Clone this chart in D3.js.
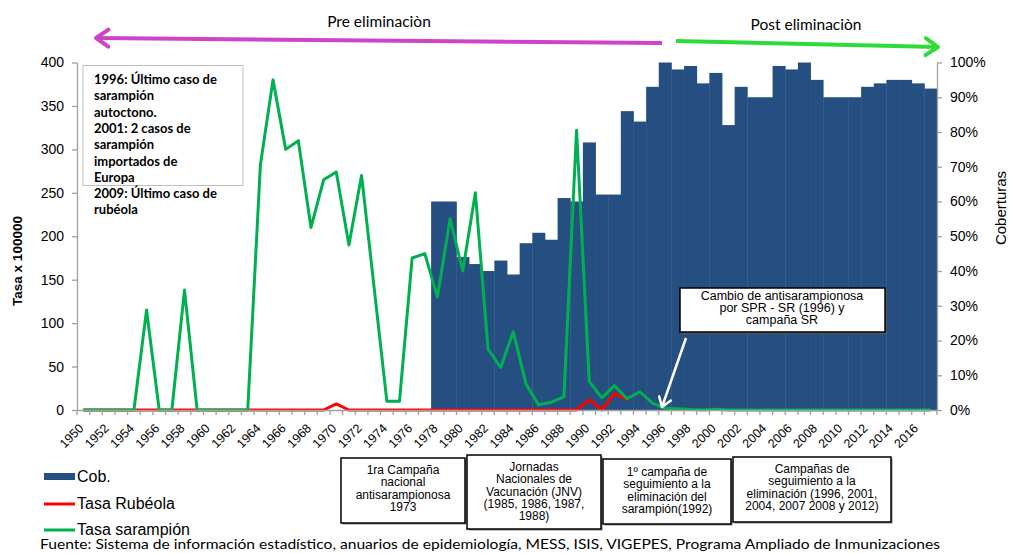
<!DOCTYPE html>
<html>
<head>
<meta charset="utf-8">
<script src="https://cdn.jsdelivr.net/npm/d3@7"></script>
<style>
  body { margin: 0; background: #fff; }
  svg { display: block; font-family: 'Liberation Sans', Arial, sans-serif; }
  .axis path, .axis line { stroke: #a0a0a0; stroke-width: 1.3; }
  .axis text { fill: #000; font-size: 14px; }
  .x.axis text { font-size: 12.5px; }
  .calibri { font-family: Lato, 'Open Sans', sans-serif; }
</style>
</head>
<body>
<svg id="chart" width="1010" height="554"></svg>
<script>
'use strict';

var years = d3.range(1950, 2018);
var yearLabels = years.filter(function(y) { return y % 2 === 0; });
var coverageYears = d3.range(1978, 2018);

// Cob. (%)
var coverage = [60, 60, 44, 42, 40, 43, 39, 48, 51, 49,
  61, 60, 77, 62, 62, 86, 83, 93, 100, 98,
  99, 94, 97, 82, 93, 90, 90, 99, 98, 100,
  95, 90, 90, 90, 93, 94, 95, 95, 94, 92.5];

// Tasa sarampión x 100000
var measlesRate = [0, 0, 0, 0, 0, 115, 0, 0, 138, 0,
  0, 0, 0, 0, 282, 380, 300, 310, 210, 265,
  274, 190, 270, 140, 10, 10, 175, 180, 130, 220,
  160, 250, 70, 49, 90, 30, 6, 9, 15, 322,
  33, 14, 28, 13, 21, 8, 2, 1.5, 0.5, 0,
  1, 0, 0, 0, 0, 0, 0, 0, 0, 0,
  0, 0, 0, 0, 0, 0, 0, 0];

// Tasa Rubéola x 100000
var rubellaRate = [0, 0, 0, 0, 0, 0, 0, 0, 0, 0,
  0, 0, 0, 0, 0, 0, 0, 0, 0, 0,
  7, 0, 0, 0, 0, 0, 0, 0, 0, 0,
  0, 0, 0, 0, 0, 0, 0, 0, 0, 0,
  12, 0, 19, 12];

var rateTicks = [0, 50, 100, 150, 200, 250, 300, 350, 400];
var coverageTicks = [0, 10, 20, 30, 40, 50, 60, 70, 80, 90, 100];

var noteLines = ['1996: Último caso de', 'sarampión', 'autoctono.', '2001: 2 casos de',
  'sarampión', 'importados de', 'Europa', '2009: Último caso de', 'rubéola'];
var calloutLines = ['Cambio de antisarampionosa', 'por SPR - SR (1996)  y', 'campaña SR'];
var campaignNotes = [
  ['1ra Campaña', 'nacional', 'antisarampionosa', '1973'],
  ['Jornadas', 'Nacionales de', 'Vacunación (JNV)', '(1985, 1986, 1987,', '1988)'],
  ['1º campaña de', 'seguimiento  a la', 'eliminación  del', 'sarampión(1992)'],
  ['Campañas de', 'seguimiento  a la', 'eliminación (1996, 2001,', '2004, 2007 2008 y 2012)']
];

var COLORS = { cob: '#264f81', rub: '#ff0000', sar: '#00b050' };
var PLOT = { left: 77, right: 937, top: 62.5, bottom: 410 };

var svg = d3.select('#chart');

var x = d3.scaleBand().domain(years).range([PLOT.left, PLOT.right]).padding(0);
var yRate = d3.scaleLinear().domain([0, 400]).range([PLOT.bottom, PLOT.top]);
var yCov = d3.scaleLinear().domain([0, 100]).range([PLOT.bottom, PLOT.top]);
var bw = x.bandwidth();

function cx(year) { return x(year) + bw / 2; }

// bars
svg.append('g').selectAll('rect')
  .data(coverage)
  .enter().append('rect')
  .attr('x', function(d, i) { return x(coverageYears[i]); })
  .attr('width', bw + 0.4)
  .attr('y', function(d) { return yCov(d); })
  .attr('height', function(d) { return PLOT.bottom - yCov(d); })
  .attr('fill', COLORS.cob);

// lines
var line = d3.line()
  .defined(function(d) { return d != null; })
  .x(function(d, i) { return cx(years[i]); })
  .y(function(d) { return yRate(d); });

svg.append('path')
  .datum(rubellaRate)
  .attr('d', line)
  .attr('fill', 'none')
  .attr('stroke', COLORS.rub)
  .attr('stroke-width', 3)
  .attr('stroke-linejoin', 'round');

svg.append('path')
  .datum(measlesRate)
  .attr('d', line)
  .attr('fill', 'none')
  .attr('stroke', COLORS.sar)
  .attr('stroke-width', 3)
  .attr('stroke-linejoin', 'round');

// left axis
svg.append('g')
  .attr('class', 'y axis')
  .attr('transform', 'translate(' + PLOT.left + ',0)')
  .call(d3.axisLeft(yRate).tickValues(rateTicks).tickSize(5).tickSizeOuter(0).tickPadding(8));

// right axis
svg.append('g')
  .attr('class', 'y axis')
  .attr('transform', 'translate(' + PLOT.right + ',0)')
  .call(d3.axisRight(yCov).tickValues(coverageTicks).tickSize(5).tickSizeOuter(0).tickPadding(8)
    .tickFormat(function(d) { return d + '%'; }));

// x axis
var xAxisG = svg.append('g')
  .attr('class', 'x axis')
  .attr('transform', 'translate(0,' + PLOT.bottom + ')')
  .call(d3.axisBottom(x).tickValues(yearLabels).tickSize(0).tickSizeOuter(0).tickPadding(0));

xAxisG.selectAll('.tick text')
  .attr('x', 0).attr('y', 0).attr('dy', 0)
  .style('text-anchor', 'end')
  .attr('transform', 'translate(1,19) rotate(-45)');

xAxisG.selectAll('.boundary')
  .data(years.concat([2018]))
  .enter().append('line')
  .attr('class', 'boundary')
  .attr('x1', function(d) { return d === 2018 ? PLOT.right : x(d); })
  .attr('x2', function(d) { return d === 2018 ? PLOT.right : x(d); })
  .attr('y1', 0).attr('y2', 5);

// axis titles
svg.append('text')
  .attr('transform', 'translate(22,261) rotate(-90)')
  .attr('text-anchor', 'middle')
  .attr('font-weight', 'bold')
  .attr('font-size', 13.5)
  .text('Tasa x 100000');

svg.append('text')
  .attr('transform', 'translate(1006,208) rotate(-90)')
  .attr('text-anchor', 'middle')
  .attr('font-size', 15)
  .text('Coberturas');

// period arrows
function chevron(g, tip, angle, len, spread, color, width) {
  var a1 = angle + spread, a2 = angle - spread;
  g.append('path')
    .attr('d', 'M' + (tip[0] + len * Math.cos(a1)) + ',' + (tip[1] + len * Math.sin(a1)) +
      'L' + tip[0] + ',' + tip[1] +
      'L' + (tip[0] + len * Math.cos(a2)) + ',' + (tip[1] + len * Math.sin(a2)))
    .attr('fill', 'none')
    .attr('stroke', color)
    .attr('stroke-width', width)
    .attr('stroke-linecap', 'round')
    .attr('stroke-linejoin', 'round');
}

function arrow(from, to, color, width, headLen) {
  var g = svg.append('g');
  g.append('line')
    .attr('x1', from[0]).attr('y1', from[1])
    .attr('x2', to[0]).attr('y2', to[1])
    .attr('stroke', color)
    .attr('stroke-width', width);
  var ang = Math.atan2(from[1] - to[1], from[0] - to[0]);
  chevron(g, to, ang, headLen, 0.6, color, width);
}

arrow([662, 43], [96, 38], '#cc44c8', 4, 15);
arrow([676, 41], [938, 47], '#2edb3a', 4, 15);

svg.append('text')
  .attr('class', 'calibri')
  .attr('x', 379).attr('y', 27)
  .attr('text-anchor', 'middle')
  .attr('font-size', 15.5)
  .text('Pre eliminaciòn');

svg.append('text')
  .attr('class', 'calibri')
  .attr('x', 806).attr('y', 30)
  .attr('text-anchor', 'middle')
  .attr('font-size', 15.5)
  .text('Post eliminaciòn');

// top-left note
svg.append('rect')
  .attr('x', 83).attr('y', 65.5)
  .attr('width', 160).attr('height', 120)
  .attr('fill', '#fff')
  .attr('stroke', '#bfbfbf');

svg.append('g')
  .attr('class', 'calibri')
  .selectAll('text')
  .data(noteLines)
  .enter().append('text')
  .attr('x', 94)
  .attr('y', function(d, i) { return 84 + i * 16.3; })
  .attr('font-size', 13)
  .attr('font-weight', 'bold')
  .text(function(d) { return d; });

// callout
svg.append('rect')
  .attr('x', 682).attr('y', 290)
  .attr('width', 205).attr('height', 44)
  .attr('fill', '#555');
svg.append('rect')
  .attr('x', 680).attr('y', 288)
  .attr('width', 205).attr('height', 44)
  .attr('fill', '#fff')
  .attr('stroke', '#000')
  .attr('stroke-width', 1.5);

svg.append('g')
  .selectAll('text')
  .data(calloutLines)
  .enter().append('text')
  .attr('x', 782)
  .attr('y', function(d, i) { return 300 + i * 12.2; })
  .attr('text-anchor', 'middle')
  .attr('font-size', 12.5)
  .text(function(d) { return d; });

arrow([686, 338], [662, 407], '#fff', 2.5, 11);

// legend
var legend = svg.append('g').attr('font-size', 16);
legend.append('rect')
  .attr('x', 44).attr('y', 473).attr('width', 31).attr('height', 7)
  .attr('fill', COLORS.cob);
legend.append('line')
  .attr('x1', 44).attr('x2', 75).attr('y1', 504).attr('y2', 504)
  .attr('stroke', COLORS.rub).attr('stroke-width', 3);
legend.append('line')
  .attr('x1', 44).attr('x2', 75).attr('y1', 530).attr('y2', 530)
  .attr('stroke', COLORS.sar).attr('stroke-width', 3);
legend.selectAll('text')
  .data(['Cob.', 'Tasa Rubéola', 'Tasa sarampión'])
  .enter().append('text')
  .attr('x', 77)
  .attr('y', function(d, i) { return 482 + i * 26.5; })
  .text(function(d) { return d; });

// campaign boxes
var boxes = [
  { x: 341, y: 458, w: 124, h: 65, ty: 474 },
  { x: 467, y: 455, w: 134, h: 74, ty: 471 },
  { x: 603, y: 459, w: 128, h: 65, ty: 476 },
  { x: 733, y: 457, w: 158, h: 65, ty: 473 }
];

boxes.forEach(function(b, i) {
  var g = svg.append('g');
  g.append('rect')
    .attr('x', b.x + 1.5).attr('y', b.y + 1.5)
    .attr('width', b.w).attr('height', b.h)
    .attr('fill', '#888');
  g.append('rect')
    .attr('x', b.x).attr('y', b.y)
    .attr('width', b.w).attr('height', b.h)
    .attr('fill', '#fff')
    .attr('stroke', '#000')
    .attr('stroke-width', 1.5);
  g.selectAll('text')
    .data(campaignNotes[i])
    .enter().append('text')
    .attr('x', b.x + b.w / 2)
    .attr('y', function(d, j) { return b.ty + j * 12.3; })
    .attr('text-anchor', 'middle')
    .attr('font-size', 12)
    .text(function(d) { return d; });
});

// source
svg.append('text')
  .attr('class', 'calibri')
  .attr('x', 40).attr('y', 549)
  .attr('font-size', 13.5)
  .attr('textLength', 900)
  .attr('lengthAdjust', 'spacingAndGlyphs')
  .text('Fuente:  Sistema de información estadístico, anuarios de epidemiología,  MESS, ISIS, VIGEPES, Programa Ampliado de Inmunizaciones');
</script>
</body>
</html>
